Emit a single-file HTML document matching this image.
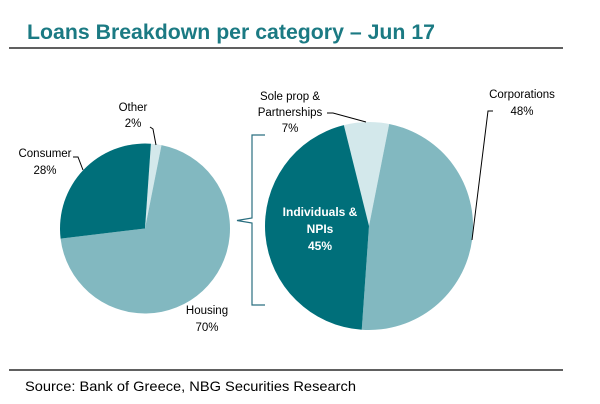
<!DOCTYPE html>
<html><head><meta charset="utf-8"><style>
html,body{margin:0;padding:0;background:#fff;}
svg{display:block;font-family:"Liberation Sans",sans-serif;}
</style></head><body>
<svg width="600" height="404" viewBox="0 0 600 404">
<text x="27" y="39" font-size="21" font-weight="bold" fill="#1b7a83" textLength="408" lengthAdjust="spacingAndGlyphs">Loans Breakdown per category – Jun 17</text>
<line x1="9" y1="48" x2="563" y2="48" stroke="#000" stroke-width="1.3"/>
<g id="left"></g>
<g id="right"></g>
<path d="M265,135 H252 V218 L237,220.5 L252,223 V305 H265" fill="none" stroke="#2a6f80" stroke-width="1.2"/>
<g font-size="11.5" fill="#000" text-anchor="middle">
<text x="133" y="111">Other</text>
<text x="133" y="127">2%</text>
<text x="45" y="157">Consumer</text>
<text x="45" y="174">28%</text>
<text x="207" y="314">Housing</text>
<text x="207" y="331">70%</text>
<text x="290" y="100">Sole prop &amp;</text>
<text x="290" y="116">Partnerships</text>
<text x="290" y="132">7%</text>
<text x="522" y="98">Corporations</text>
<text x="522" y="115">48%</text>
</g>
<g font-size="12" font-weight="bold" fill="#fff" text-anchor="middle">
<text x="320" y="216">Individuals &amp;</text>
<text x="320" y="233">NPIs</text>
<text x="320" y="250">45%</text>
</g>
<g fill="none" stroke="#000" stroke-width="1">
<path d="M150,127 L153,129 L156,145"/>
<path d="M73,157 L78,157 L83,170"/>
<path d="M327,113 L333,113 L366,122"/>
<path d="M493,111 L488,111 L472,240"/>
</g>
<line x1="9" y1="370" x2="563" y2="370" stroke="#000" stroke-width="1.3"/>
<text x="25" y="391" font-size="14" fill="#000" textLength="331" lengthAdjust="spacingAndGlyphs">Source: Bank of Greece, NBG Securities Research</text>
</svg>
<script>
const leftCategories = ['Other','Housing','Consumer'];
const leftValues = [2,70,28];
const rightCategories = ['Sole prop & Partnerships','Corporations','Individuals & NPIs'];
const rightValues = [7,48,45];
const leftColors = ['#d3e8eb','#82b8c0','#006f7a'];
const rightColors = ['#d3e8eb','#82b8c0','#006f7a'];
function drawPie(gid, cats, vals, colors, cx, cy, r, startDeg){
  const g = document.getElementById(gid);
  const total = vals.reduce((a,b)=>a+b,0);
  let a = startDeg;
  vals.forEach((v,i)=>{
    const sweep = v/total*360;
    const a0 = (a-90)*Math.PI/180, a1 = (a+sweep-90)*Math.PI/180;
    const x0 = cx+r*Math.cos(a0), y0 = cy+r*Math.sin(a0);
    const x1 = cx+r*Math.cos(a1), y1 = cy+r*Math.sin(a1);
    const p = document.createElementNS('http://www.w3.org/2000/svg','path');
    p.setAttribute('d',`M${cx},${cy} L${x0},${y0} A${r},${r} 0 ${sweep>180?1:0} 1 ${x1},${y1} Z`);
    p.setAttribute('fill',colors[i]);
    
    
    g.appendChild(p);
    a += sweep;
  });
}
drawPie('left', leftCategories, leftValues, leftColors, 145, 228.5, 85, 4);
drawPie('right', rightCategories, rightValues, rightColors, 369, 226, 104, -14);
</script>
</body></html>
